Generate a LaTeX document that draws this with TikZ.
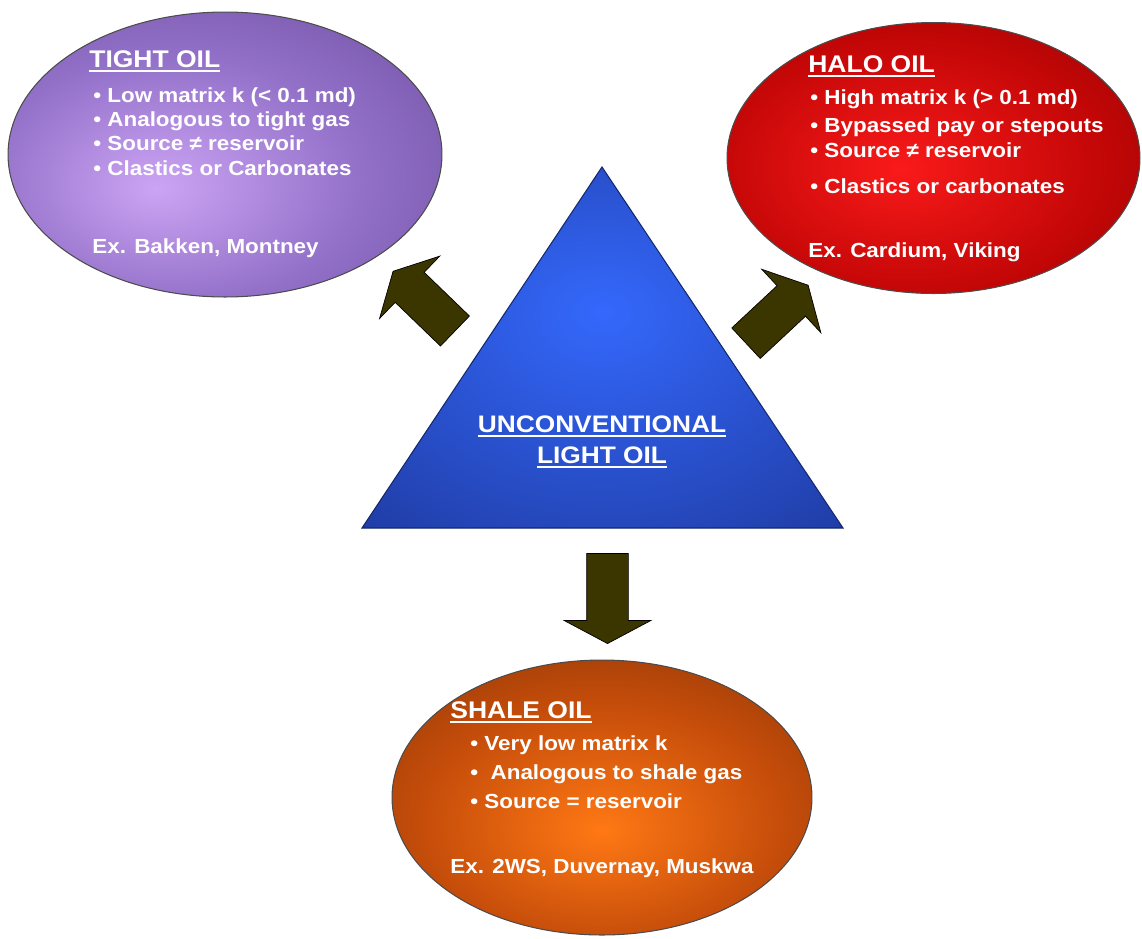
\documentclass[tikz,border=0pt]{standalone}
\usepackage{fontspec}
\usepackage{tikz}
\usetikzlibrary{shapes.geometric,shapes.arrows}
\newfontfamily\oilfont[FakeStretch=1.1]{Liberation Sans}

\definecolor{tightin}{HTML}{CCA4F4}
\definecolor{tightmid}{HTML}{9270C8}
\definecolor{tightout}{HTML}{563A88}
\definecolor{haloin}{HTML}{FA1A1A}
\definecolor{halomid}{HTML}{C20606}
\definecolor{haloout}{HTML}{680202}
\definecolor{shalein}{HTML}{FF7814}
\definecolor{shalemid}{HTML}{C44C0A}
\definecolor{shaleout}{HTML}{5E2404}
\definecolor{corein}{HTML}{3468FC}
\definecolor{coreout}{HTML}{1C3494}
\definecolor{coreedge}{HTML}{14286E}
\definecolor{arrowfill}{HTML}{3B3500}

\pgfdeclareradialshading{tightshade}{\pgfpoint{-8bp}{-6bp}}{color(0bp)=(tightin); color(22bp)=(tightmid); color(54bp)=(tightout); color(90bp)=(tightout)}
\pgfdeclareradialshading{haloshade}{\pgfpoint{-4bp}{-2bp}}{color(0bp)=(haloin); color(24bp)=(halomid); color(54bp)=(haloout); color(90bp)=(haloout)}
\pgfdeclareradialshading{shaleshade}{\pgfpoint{0bp}{-6bp}}{color(0bp)=(shalein); color(22bp)=(shalemid); color(54bp)=(shaleout); color(90bp)=(shaleout)}
\pgfdeclareradialshading{coreshade}{\pgfpoint{0bp}{5bp}}{color(0bp)=(corein); color(45bp)=(coreout); color(75bp)=(coreedge)}

% underlined headings
\newcommand{\oilhead}[1]{\setbox0\hbox{#1}\rlap{\rule[-3pt]{\wd0}{1.1pt}}\box0}

\tikzset{
  oilblob/.style={ellipse, draw=black!70, line width=0.6pt, inner sep=0},
  oiltext/.style={text=white, inner sep=0, anchor=base west, align=left,
    font=\oilfont\bfseries\fontsize{11.6}{13.8}\selectfont},
  oiltitle/.style={oiltext, font=\oilfont\bfseries\fontsize{13.7}{15}\selectfont},
  fatarrow/.style={single arrow, draw=black, fill=arrowfill, line width=0.4pt,
    inner xsep=0, inner ysep=0.41cm, minimum width=1.72cm,
    single arrow head extend=0.45cm, single arrow tip angle=124},
}

\begin{document}
\begin{tikzpicture}[x=0.02cm, y=-0.02cm]
    \useasboundingbox (0,0) rectangle (1142,938);

    % the three kinds
    \node[oilblob, shading=tightshade, minimum width=8.68cm, minimum height=5.7cm] (tight) at (225,154.5) {};
    \node[oilblob, shading=haloshade, minimum width=8.26cm, minimum height=5.42cm] (halo) at (933.5,158) {};
    \node[oilblob, shading=shaleshade, minimum width=8.4cm, minimum height=5.5cm] (shale) at (602,797.5) {};

    \node[oiltitle] (tighthead) at (89,67) {\oilhead{TIGHT OIL}};
    \node[oiltext] (tightlist) at (93,175) {\textbullet\ Low matrix k (< 0.1 md)\\
        \textbullet\ Analogous to tight gas\\
        \textbullet\ Source ≠ reservoir\\
        \textbullet\ Clastics or Carbonates};
    \node[oiltext] (tightex) at (92,253) {Ex. Bakken, Montney};

    \node[oiltitle] (halohead) at (808,72) {\oilhead{HALO OIL}};
    \node[oiltext, font=\oilfont\bfseries\fontsize{11.6}{14}\selectfont] (halolist) at (810,193) {\textbullet\ High matrix k (> 0.1 md)\\[1.9pt]
        \textbullet\ Bypassed pay or stepouts\\
        \textbullet\ Source ≠ reservoir\\[6.4pt]
        \textbullet\ Clastics or carbonates};
    \node[oiltext] (haloex) at (808,257) {Ex. Cardium, Viking};

    \node[oiltitle] (shalehead) at (450,718) {\oilhead{SHALE OIL}};
    \node[oiltext, font=\oilfont\bfseries\fontsize{11.6}{16.4}\selectfont] (shalelist) at (470,808) {\textbullet\ Very low matrix k\\
        \textbullet\ \ Analogous to shale gas\\
        \textbullet\ Source = reservoir};
    \node[oiltext] (shaleex) at (450,873) {Ex. 2WS, Duvernay, Muskwa};

    % centre triangle
    \coordinate (apex) at (602,167);
    \coordinate (baseleft) at (362,528);
    \coordinate (baseright) at (843,528);
    \draw[draw=coreedge, line width=0.6pt, shading=coreshade] (apex) -- (baseright) -- (baseleft) -- cycle;
    \node[oiltitle, anchor=base, align=center, font=\oilfont\bfseries\fontsize{13.6}{17.6}\selectfont] (core) at (602,463)
        {\oilhead{UNCONVENTIONAL}\\\oilhead{LIGHT OIL}};

    % block arrows
    \node[fatarrow, minimum height=1.72cm, rotate=136] (totight) at (428,305) {};
    \node[fatarrow, minimum height=1.70cm, rotate=43] (tohalo) at (773,318) {};
    \node[fatarrow, minimum height=1.8cm, rotate=-90] (toshale) at (607.5,593) {};
\end{tikzpicture}
\end{document}
